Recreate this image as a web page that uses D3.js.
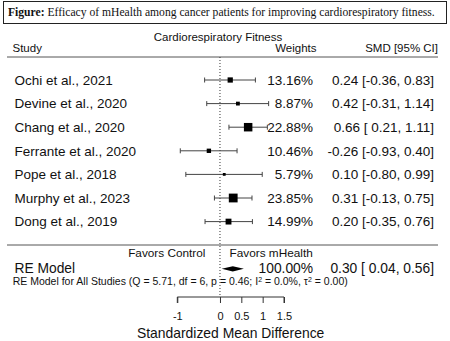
<!DOCTYPE html>
<html>
<head>
<meta charset="utf-8">
<script src="https://cdn.jsdelivr.net/npm/d3@7"></script>
<style>
  html, body { margin: 0; padding: 0; background: #fff; }
  svg { display: block; }
  text { font-family: "Liberation Sans", Arial, sans-serif; fill: #111; white-space: pre; }
  .cap { font-family: "Liberation Serif", "Times New Roman", serif; }
</style>
</head>
<body>
<svg width="450" height="341"></svg>
<script>
const width = 450, height = 341;
const svg = d3.select("svg").attr("viewBox", [0, 0, width, height]);

// Study rows
const studies = ["Ochi et al., 2021", "Devine et al., 2020", "Chang et al., 2020", "Ferrante et al., 2020",
  "Pope et al., 2018", "Murphy et al., 2023", "Dong et al., 2019"];
const weights = [13.16, 8.87, 22.88, 10.46, 5.79, 23.85, 14.99];
const smd = [0.24, 0.42, 0.66, -0.26, 0.10, 0.31, 0.20];
const ciLower = [-0.36, -0.31, 0.21, -0.93, -0.80, -0.13, -0.35];
const ciUpper = [0.83, 1.14, 1.11, 0.40, 0.99, 0.75, 0.76];

// Pooled random-effects estimate
const pooled = { est: 0.30, lo: 0.04, hi: 0.56, weight: 100.00 };
const hetText = ["RE Model for All Studies (Q = 5.71, df = 6, p = 0.46; I", "2", " = 0.0%, \u03C4", "2", " = 0.00)"];

const xTicks = [-1, 0, 0.5, 1, 1.5];

const x = d3.scaleLinear().domain([-1, 1.5]).range([177.3, 284]);
const y = d3.scaleLinear().domain([0, studies.length - 1]).range([80, 221.6]);
const boxSize = d3.scaleLinear().domain(d3.extent(weights)).range([2.8, 8.8]);

const colStudy = 14.5, colWeight = 313, colSmd = 434;
const lineLeft = 7, lineRight = 438;

// caption box
svg.append("rect")
  .attr("x", 3.5).attr("y", 1.5).attr("width", 443).attr("height", 22)
  .attr("fill", "none").attr("stroke", "#222").attr("stroke-width", 1);
const cap = svg.append("text").attr("class", "cap")
  .attr("x", 8).attr("y", 16).style("font-size", "12px");
cap.append("tspan").style("font-weight", "bold").text("Figure:");
cap.append("tspan").text(" Efficacy of mHealth among cancer patients for improving cardiorespiratory fitness.");
// fit the caption inside the box
const capW = cap.node().getComputedTextLength();
cap.style("font-size", (12 * 427 / capW) + "px");

// headers
svg.append("text").attr("x", 218).attr("y", 41).attr("text-anchor", "middle")
  .style("font-size", "11.5px").text("Cardiorespiratory Fitness");
svg.append("text").attr("x", 12.5).attr("y", 52).style("font-size", "11.5px").text("Study");
svg.append("text").attr("x", 316.5).attr("y", 52).attr("text-anchor", "end").style("font-size", "11.5px").text("Weights");
svg.append("text").attr("x", 438).attr("y", 52).attr("text-anchor", "end").style("font-size", "11.5px").text("SMD [95% CI]");

svg.selectAll("line.sep").data([57, 245]).join("line").attr("class", "sep")
  .attr("x1", lineLeft).attr("x2", lineRight).attr("y1", d => d).attr("y2", d => d)
  .attr("stroke", "#555").attr("stroke-width", 1);

// reference line at zero
svg.append("line")
  .attr("x1", x(0)).attr("x2", x(0)).attr("y1", 57).attr("y2", 297)
  .attr("stroke", "#333").attr("stroke-width", 1).attr("stroke-dasharray", "1,2");

const rows = studies.map((s, i) => ({ study: s, w: weights[i], est: smd[i], lo: ciLower[i], hi: ciUpper[i], i }));

// CI whiskers and caps
const g = svg.append("g");
g.selectAll("line.ci").data(rows).join("line").attr("class", "ci")
  .attr("x1", d => x(d.lo)).attr("x2", d => x(d.hi))
  .attr("y1", d => y(d.i)).attr("y2", d => y(d.i))
  .attr("stroke", "#444").attr("stroke-width", 1);
g.selectAll("path.cap").data(rows).join("path").attr("class", "cap")
  .attr("d", d => `M${x(d.lo)},${y(d.i) - 2.5}V${y(d.i) + 2.5}M${x(d.hi)},${y(d.i) - 2.5}V${y(d.i) + 2.5}`)
  .attr("stroke", "#444").attr("stroke-width", 1);
g.selectAll("rect.box").data(rows).join("rect").attr("class", "box")
  .attr("x", d => x(d.est) - boxSize(d.w) / 2)
  .attr("y", d => y(d.i) - boxSize(d.w) / 2)
  .attr("width", d => boxSize(d.w)).attr("height", d => boxSize(d.w))
  .attr("fill", "#000");

const pad = (v, n) => v.toFixed(2).padStart(n, " ");
const fmtCI = (e, l, h) => `${e.toFixed(2)} [${pad(l, 5)}, ${pad(h, 4)}]`;

// row labels
svg.selectAll("text.study").data(rows).join("text").attr("class", "study")
  .attr("x", colStudy).attr("y", d => y(d.i)).attr("dy", "0.36em")
  .style("font-size", "13.5px").text(d => d.study);
svg.selectAll("text.wt").data(rows).join("text").attr("class", "wt")
  .attr("x", colWeight).attr("y", d => y(d.i)).attr("dy", "0.36em").attr("text-anchor", "end")
  .style("font-size", "13.5px").text(d => d.w.toFixed(2) + "%");
svg.selectAll("text.smd").data(rows).join("text").attr("class", "smd")
  .attr("x", colSmd).attr("y", d => y(d.i)).attr("dy", "0.36em").attr("text-anchor", "end")
  .style("font-size", "13.5px").text(d => fmtCI(d.est, d.lo, d.hi));

// favours labels
svg.append("text").attr("x", 205.5).attr("y", 257).attr("text-anchor", "end")
  .style("font-size", "11.8px").text("Favors Control");
svg.append("text").attr("x", 229.5).attr("y", 257)
  .style("font-size", "11.8px").text("Favors mHealth");

// pooled summary row
const yRE = 268.8;
svg.append("path")
  .attr("d", `M${x(pooled.lo)},${yRE}L${x(pooled.est)},${yRE - 2.6}L${x(pooled.hi)},${yRE}L${x(pooled.est)},${yRE + 2.6}Z`)
  .attr("fill", "#000");
svg.append("text").attr("x", colStudy).attr("y", yRE).attr("dy", "0.33em")
  .style("font-size", "13.8px").text("RE Model");
svg.append("text").attr("x", colWeight).attr("y", yRE).attr("dy", "0.33em").attr("text-anchor", "end")
  .style("font-size", "13.8px").text(pooled.weight.toFixed(2) + "%");
svg.append("text").attr("x", colSmd).attr("y", yRE).attr("dy", "0.33em").attr("text-anchor", "end")
  .style("font-size", "13.8px").text(fmtCI(pooled.est, pooled.lo, pooled.hi));

const het = svg.append("text").attr("x", 12.7).attr("y", 285.2).style("font-size", "10.5px");
hetText.forEach((t, k) => {
  const ts = het.append("tspan").text(t);
  if (k % 2 === 1) ts.attr("dy", -3.5).style("font-size", "7px");
  else if (k > 0) ts.attr("dy", 3.5);
});

// x axis
const axis = svg.append("g").attr("transform", "translate(0,297)")
  .call(d3.axisBottom(x).tickValues(xTicks).tickFormat(d => String(d)).tickSize(6).tickPadding(9));
axis.select(".domain").attr("stroke", "#333").attr("d", `M${x(-1)},6V0H${x(1.5)}V6`);
axis.selectAll(".tick line").attr("stroke", "#333");
axis.selectAll(".tick text").style("font-size", "11px").style("font-family", "Liberation Sans, Arial, sans-serif").attr("fill", "#111");

svg.append("text").attr("x", (x(-1) + x(1.5)) / 2).attr("y", 337.5)
  .attr("text-anchor", "middle").style("font-size", "13.9px").text("Standardized Mean Difference");
</script>
</body>
</html>
